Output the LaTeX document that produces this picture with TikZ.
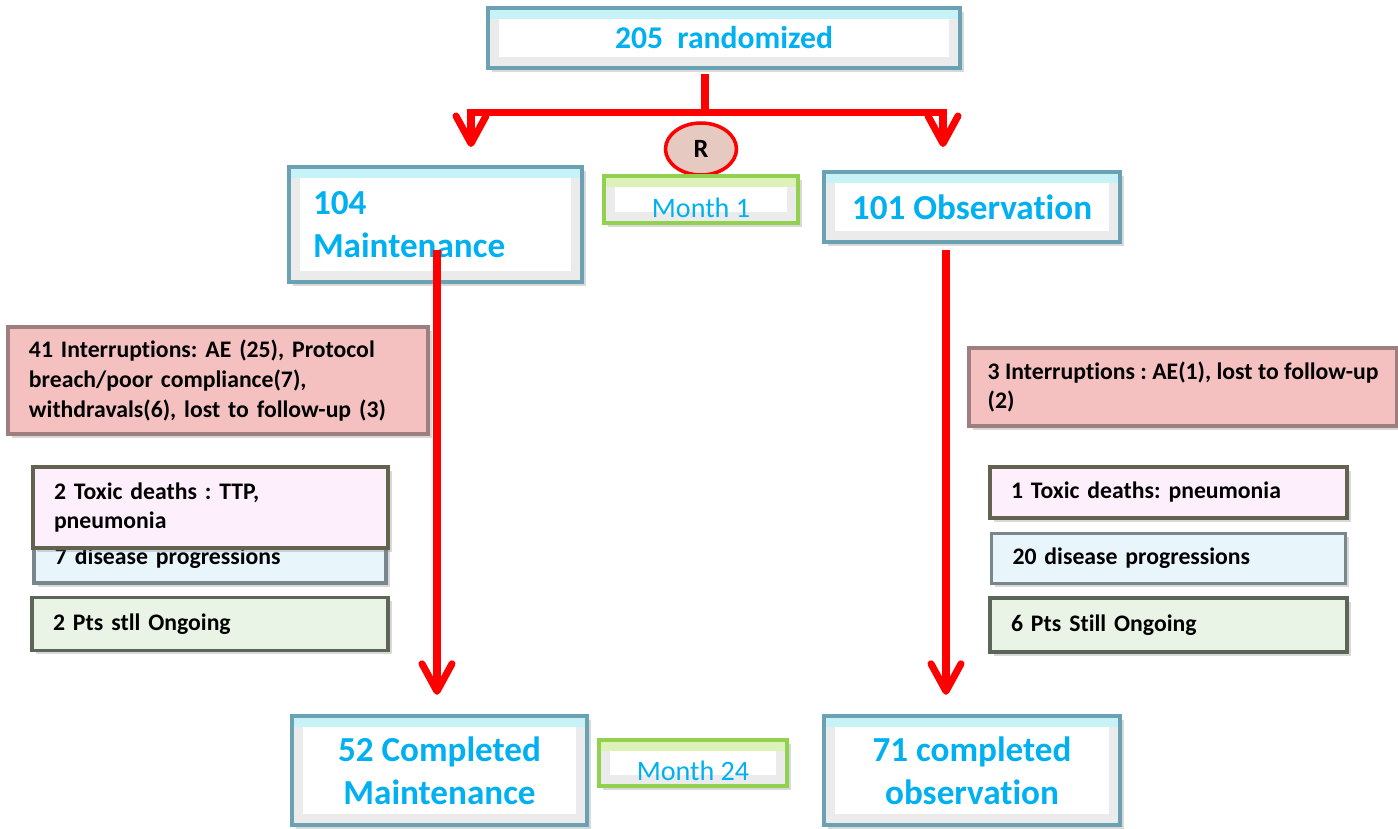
\documentclass[tikz,border=0pt]{standalone}
\usepackage{fontspec}
\setmainfont{Carlito}[Ligatures=NoCommon]
\usepackage{xcolor}
\usepackage{tikz}
\usetikzlibrary{shapes,arrows.meta,positioning,shadows}

\definecolor{armblue}{HTML}{00B0F0}
\definecolor{mainedge}{HTML}{6AA2B3}
\definecolor{maintop}{HTML}{C6F2F8}
\definecolor{monthedge}{HTML}{92D050}
\definecolor{monthtop}{HTML}{DDF2B8}
\definecolor{flowred}{HTML}{FF0000}
\definecolor{rfill}{HTML}{E6C9C0}
\definecolor{intfill}{HTML}{F4C0C0}
\definecolor{intedge}{HTML}{9E7F7F}
\definecolor{toxfill}{HTML}{FDF0FC}
\definecolor{toxedge}{HTML}{62624F}
\definecolor{disfill}{HTML}{E8F6FC}
\definecolor{disedge}{HTML}{77878C}
\definecolor{ptsfill}{HTML}{E9F4E6}
\definecolor{ptsedge}{HTML}{5C6658}

\frenchspacing

\begin{document}
\begin{tikzpicture}[
    boxshadow/.style={drop shadow={opacity=0.3, shadow xshift=2pt, shadow yshift=-2pt}},
    bevel/.style={fill=white, path picture={
        \fill[gray!16] (path picture bounding box.south west) rectangle (path picture bounding box.north east);
        \fill[#1] ([yshift=-6pt]path picture bounding box.north west) rectangle (path picture bounding box.north east);
        \fill[white] ([shift={(6pt,6pt)}]path picture bounding box.south west) rectangle ([shift={(-6pt,-6pt)}]path picture bounding box.north east);
    }},
    armbox/.style={draw=mainedge, line width=2.5pt, bevel=maintop, boxshadow,
        text=armblue, font=\fontsize{20}{24.5}\selectfont\bfseries, align=center},
    monthbox/.style={draw=monthedge, line width=2.5pt, bevel=monthtop, boxshadow,
        text=armblue, font=\fontsize{16}{19}\selectfont, inner ysep=0pt, text depth=0.1cm},
    sidebox/.style={line width=2pt, boxshadow, align=left, inner xsep=0.42cm,
        font=\fontsize{13.5}{17}\selectfont\bfseries},
    flowline/.style={draw=flowred, line width=4pt},
    flow/.style={flowline, -{Straight Barb[length=0.55cm, width=0.6cm, round]}},
]
\useasboundingbox (0,0) rectangle (27.96,-16.56);

\node[armbox, minimum width=9.44cm, minimum height=1.2cm, font=\fontsize{18}{22}\selectfont\bfseries] (rand) at (14.48,-0.76) {205\ \ randomized};
\node[ellipse, draw=flowred, line width=2pt, fill=rfill, minimum width=1.42cm, minimum height=1.04cm,
    font=\fontsize{15}{17}\selectfont\bfseries] (rnd) at (14.02,-2.98) {R};
\node[monthbox, minimum width=3.88cm, minimum height=0.94cm, text height=0.82cm] (mone) at (14.02,-3.99) {Month 1};

\node[armbox, minimum width=5.86cm, minimum height=2.3cm, text width=4.9cm, align=left] (maint) at (8.71,-4.49) {104\\Maintenance};
\node[armbox, minimum width=5.92cm, minimum height=1.4cm] (obs) at (19.44,-4.14) {101 Observation};

\node[sidebox, draw=intedge, fill=intfill, minimum width=8.4cm, minimum height=2.14cm, text width=7.56cm] (lint) at (4.36,-7.61)
    {41 Interruptions: AE (25), Protocol\\breach/poor compliance(7),\\withdravals(6), lost to follow-up (3)};
\node[sidebox, draw=intedge, fill=intfill, minimum width=8.56cm, minimum height=1.56cm, inner xsep=0.3cm] (rint) at (23.66,-7.74)
    {3 Interruptions : AE(1), lost to follow-up\\(2)};

\node[sidebox, draw=disedge, fill=disfill, minimum width=7.04cm, minimum height=1.0cm, text width=6.2cm] (ldis) at (4.2,-11.16) {7 disease progressions};
\node[sidebox, draw=toxedge, fill=toxfill, minimum width=7.1cm, minimum height=1.62cm, text width=6.26cm] (ltox) at (4.21,-10.15) {2 Toxic deaths : TTP,\\pneumonia};
\node[sidebox, draw=ptsedge, fill=ptsfill, minimum width=7.12cm, minimum height=1.06cm, text width=6.28cm, below=0.22cm of ldis] (lpts) {2 Pts stll Ongoing};

\node[sidebox, draw=toxedge, fill=toxfill, minimum width=7.14cm, minimum height=1.02cm, text width=6.3cm] (rtox) at (23.37,-9.85) {1 Toxic deaths: pneumonia};
\node[sidebox, draw=disedge, fill=disfill, minimum width=7.08cm, minimum height=1.0cm, text width=6.24cm, below=0.24cm of rtox] (rdis) {20 disease progressions};
\node[sidebox, draw=ptsedge, fill=ptsfill, minimum width=7.14cm, minimum height=1.08cm, text width=6.3cm, below=0.22cm of rdis] (rpts) {6 Pts Still Ongoing};

\node[armbox, minimum width=5.9cm, minimum height=2.18cm] (lcomp) at (8.79,-15.41) {52 Completed\\Maintenance};
\node[monthbox, minimum width=3.76cm, minimum height=0.92cm, text height=0.8cm] (mtwo) at (13.86,-15.26) {Month 24};
\node[armbox, minimum width=5.92cm, minimum height=2.18cm] (rcomp) at (19.44,-15.41) {71 completed\\observation};

\coordinate (lend) at (9.42,-2.94);
\coordinate (rend) at (18.86,-2.94);
\draw[flowline, shorten <=0.08cm] ([xshift=-0.38cm]rand.south) -- ++(0,-0.84) coordinate (split);
\draw[flow] (split) -| (lend);
\draw[flow] (split) -| (rend);

\draw[flow, shorten <=-0.68cm, shorten >=0.38cm] ([xshift=0.03cm]maint.south) -- ([xshift=0.03cm]maint.south |- lcomp.north);
\draw[flow, shorten <=0.12cm, shorten >=0.38cm] ([xshift=-0.52cm]obs.south) -- ([xshift=-0.52cm]obs.south |- rcomp.north);
\end{tikzpicture}
\end{document}
